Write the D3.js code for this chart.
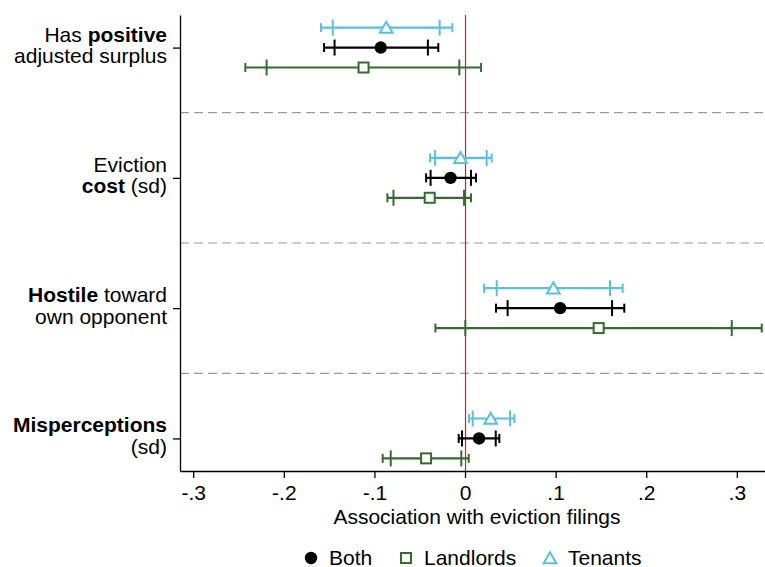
<!DOCTYPE html>
<html><head><meta charset="utf-8">
<script src="https://cdn.jsdelivr.net/npm/d3@7"></script>
<style>body{margin:0;background:#fff}svg{display:block}text{font-family:"Liberation Sans",Arial,Helvetica,sans-serif}</style>
</head><body><svg id="c" width="765" height="567"></svg>
<script>
// Categories (top to bottom)
const categories = ["positive", "cost", "hostile", "misperceptions"];
const seriesNames = ["Both", "Landlords", "Tenants"];
// Point estimates per category
const bothEst = [-0.093, -0.016, 0.105, 0.0155];
const landlordsEst = [-0.112, -0.039, 0.1475, -0.043];
const tenantsEst = [-0.087, -0.005, 0.0975, 0.0283];
// Inner intervals (tall ticks)
const bothInnerLo = [-0.144, -0.038, 0.047, -0.0033];
const bothInnerHi = [-0.041, 0.0066, 0.1623, 0.0339];
const landlordsInnerLo = [-0.219, -0.079, 0.0003, -0.082];
const landlordsInnerHi = [-0.0063, -0.0011, 0.2944, -0.0041];
const tenantsInnerLo = [-0.146, -0.033, 0.035, 0.0085];
const tenantsInnerHi = [-0.028, 0.0239, 0.160, 0.0497];
// Outer intervals (short caps)
const bothOuterLo = [-0.1556, -0.043, 0.0342, -0.007];
const bothOuterHi = [-0.0295, 0.0121, 0.1758, 0.0379];
const landlordsOuterLo = [-0.2425, -0.0857, -0.0327, -0.0909];
const landlordsOuterHi = [0.0177, 0.0066, 0.3275, 0.0041];
const tenantsOuterLo = [-0.159, -0.0386, 0.021, 0.0044];
const tenantsOuterHi = [-0.014, 0.0294, 0.174, 0.0545];
const xTicks = [-0.3, -0.2, -0.1, 0, 0.1, 0.2, 0.3];
const xTickLabels = ["-.3", "-.2", "-.1", "0", ".1", ".2", ".3"];
const yLabelLines = [
  [[["Has ", false], ["positive", true]], [["adjusted surplus", false]]],
  [[["Eviction", false]], [["cost", true], [" (sd)", false]]],
  [[["Hostile", true], [" toward", false]], [["own opponent", false]]],
  [[["Misperceptions", true]], [["(sd)", false]]]
];
const xTitle = "Association with eviction filings";

const svg = d3.select("#c");
const PL = 180, PR = 765, PT = 15, PB = 471;
const x = d3.scaleLinear().domain([-0.3146, 0.3311]).range([PL, PR]);
const y = d3.scaleLinear().domain([0.75, 4.25]).range([PT, PB]);
const colors = {Both: "#000000", Landlords: "#356b30", Tenants: "#5bbfe0"};
const offsets = {Tenants: -0.153, Both: 0, Landlords: 0.153};
const FS = 21;

// dashed separators
[1.5, 2.5, 3.5].forEach(v => {
  svg.append("line").attr("x1", PL).attr("x2", PR).attr("y1", y(v)).attr("y2", y(v))
    .attr("stroke", "#9a9a9a").attr("stroke-width", 1.2).attr("stroke-dasharray", "9,5");
});

// zero line
svg.append("line").attr("x1", x(0) + 0.5).attr("x2", x(0) + 0.5).attr("y1", PT).attr("y2", PB)
  .attr("stroke", "#e31a1c").attr("stroke-width", 1.2);

// axes
const xAxis = d3.axisBottom(x).tickValues(xTicks).tickFormat((d, i) => xTickLabels[i]).tickSize(7).tickSizeOuter(0);
const gx = svg.append("g").attr("transform", `translate(0,${PB})`).call(xAxis);
gx.select(".domain").attr("stroke", "#000").attr("stroke-width", 1.3);
gx.selectAll(".tick line").attr("stroke", "#000").attr("stroke-width", 1.3);
gx.selectAll(".tick text").attr("font-size", FS).attr("fill", "#000").attr("dy", "0.78em").attr("y", 13)
  .style("font-family", '"Liberation Sans",Arial,sans-serif');

const yAxis = d3.axisLeft(y).tickValues([1, 2, 3, 4]).tickFormat("").tickSize(7).tickSizeOuter(0);
const gy = svg.append("g").attr("transform", `translate(${PL},0)`).call(yAxis);
gy.select(".domain").attr("stroke", "#000").attr("stroke-width", 1.3);
gy.selectAll(".tick line").attr("stroke", "#000").attr("stroke-width", 1.3);

// y labels
yLabelLines.forEach((lines, i) => {
  lines.forEach((parts, j) => {
    const t = svg.append("text").attr("x", 167).attr("y", y(i + 1) + (j === 0 ? -6 : 15.5))
      .attr("text-anchor", "end").attr("font-size", FS).attr("fill", "#000");
    parts.forEach(([s, b]) => t.append("tspan").text(s).attr("font-weight", b ? "bold" : "normal"));
  });
});

// x title
svg.append("text").attr("x", 477).attr("y", 524).attr("text-anchor", "middle")
  .attr("font-size", FS).text(xTitle);

// series
const series = [
  {name: "Tenants", est: tenantsEst, il: tenantsInnerLo, ih: tenantsInnerHi, ol: tenantsOuterLo, oh: tenantsOuterHi},
  {name: "Both", est: bothEst, il: bothInnerLo, ih: bothInnerHi, ol: bothOuterLo, oh: bothOuterHi},
  {name: "Landlords", est: landlordsEst, il: landlordsInnerLo, ih: landlordsInnerHi, ol: landlordsOuterLo, oh: landlordsOuterHi}
];
const tri = d3.symbol().type(d3.symbolTriangle).size(70);
function marker(g, name, cx, cy) {
  const c = colors[name];
  if (name === "Both") g.append("circle").attr("cx", cx).attr("cy", cy).attr("r", 6.2).attr("fill", c);
  else if (name === "Landlords") g.append("rect").attr("x", cx - 5).attr("y", cy - 5).attr("width", 10).attr("height", 10)
    .attr("fill", "#fff").attr("stroke", c).attr("stroke-width", 2);
  else g.append("path").attr("d", tri()).attr("transform", `translate(${cx},${cy + 1.5})`)
    .attr("fill", "#fff").attr("stroke", c).attr("stroke-width", 2);
}
series.forEach(s => {
  const c = colors[s.name];
  const g = svg.append("g");
  categories.forEach((cat, i) => {
    const cy = y(i + 1 + offsets[s.name]);
    g.append("line").attr("x1", x(s.ol[i])).attr("x2", x(s.oh[i])).attr("y1", cy).attr("y2", cy)
      .attr("stroke", c).attr("stroke-width", 2.2);
    [s.ol[i], s.oh[i]].forEach(v => g.append("line").attr("x1", x(v)).attr("x2", x(v))
      .attr("y1", cy - 4.5).attr("y2", cy + 4.5).attr("stroke", c).attr("stroke-width", 2));
    [s.il[i], s.ih[i]].forEach(v => g.append("line").attr("x1", x(v)).attr("x2", x(v))
      .attr("y1", cy - 8).attr("y2", cy + 8).attr("stroke", c).attr("stroke-width", 2));
    marker(g, s.name, x(s.est[i]), cy);
  });
});

// legend
const legendPos = [{name: "Both", mx: 311, tx: 329}, {name: "Landlords", mx: 406, tx: 424}, {name: "Tenants", mx: 550, tx: 568}];
legendPos.forEach(l => {
  const g = svg.append("g");
  marker(g, l.name, l.mx, 558);
  g.append("text").attr("x", l.tx).attr("y", 564.5).attr("font-size", FS).text(l.name);
});
</script></body></html>
